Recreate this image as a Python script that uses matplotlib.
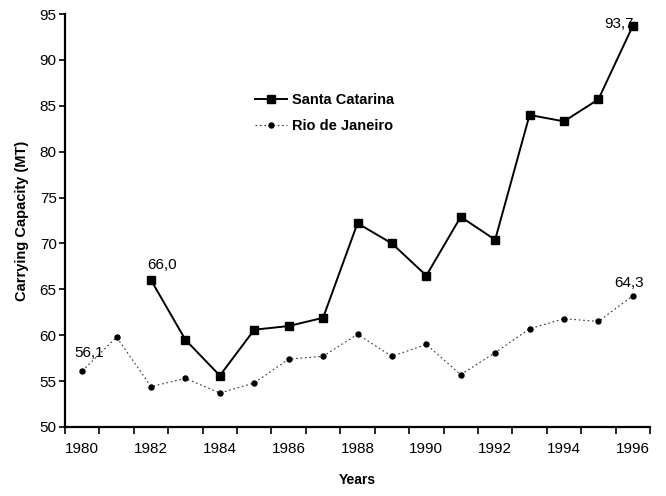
import matplotlib
import matplotlib.pyplot as plt

matplotlib.use('Agg')
plt.rcParams['font.family'] = ['Liberation Sans', 'DejaVu Sans']

years = list(range(1980, 1997))
santa_catarina = [None, None, 66.0, 59.5, 55.6, 60.6, 61.0, 61.9, 72.2, 70.0,
                  66.5, 72.9, 70.4, 84.0, 83.3, 85.7, 93.7]
rio_de_janeiro = [56.1, 59.8, 54.4, 55.3, 53.7, 54.8, 57.4, 57.7, 60.1, 57.7,
                  59.0, 55.7, 58.1, 60.7, 61.8, 61.5, 64.3]
year_labels = [str(y) for y in years[::2]]

fig = plt.figure(figsize=(6.66, 4.96), dpi=100)
ax = fig.add_axes([65 / 666, 69 / 496, 585 / 666, 413 / 496])

idx = list(range(len(years)))
sc_x = [i for i, v in zip(idx, santa_catarina) if v is not None]
sc_y = [v for v in santa_catarina if v is not None]

ax.plot(sc_x, sc_y, color='black', lw=1.4, marker='s', ms=5.5,
        label='Santa Catarina')
ax.plot(idx, rio_de_janeiro, color='#333333', lw=0.8, ls=(0, (1.5, 2.5)),
        marker='o', ms=3.6, mfc='black', mec='black',
        label='Rio de Janeiro')

# value labels at the series ends
def fmt(v):
    return f'{v:.1f}'.replace('.', ',')

fs = 11
ax.annotate(fmt(sc_y[0]), (sc_x[0], sc_y[0]), textcoords='offset pixels',
            xytext=(-4, 15), ha='left', va='center', fontsize=fs)
ax.annotate(fmt(sc_y[-1]), (sc_x[-1], sc_y[-1]), textcoords='offset pixels',
            xytext=(1, 2), ha='right', va='center', fontsize=fs)
ax.annotate(fmt(rio_de_janeiro[0]), (0, rio_de_janeiro[0]),
            textcoords='offset pixels', xytext=(-8, 18), ha='left',
            va='center', fontsize=fs)
ax.annotate(fmt(rio_de_janeiro[-1]), (idx[-1], rio_de_janeiro[-1]),
            textcoords='offset pixels', xytext=(-4, 13), ha='center',
            va='center', fontsize=fs)

ax.set_xlim(-0.5, len(years) - 0.5)
ax.set_ylim(50, 95)
ax.set_yticks(range(50, 96, 5))
ax.set_xticks([i - 0.5 for i in range(len(years) + 1)])
ax.set_xticklabels([])
ax.set_xticks(idx[::2], minor=True)
ax.set_xticklabels(year_labels, minor=True)
ax.tick_params(axis='x', which='major', direction='out', length=5, width=1.2)
ax.tick_params(axis='x', which='minor', length=0, pad=11, labelsize=fs)
ax.tick_params(axis='y', direction='out', length=4, width=1.2, labelsize=fs,
               pad=2)

for side in ['top', 'right']:
    ax.spines[side].set_visible(False)
for side in ['left', 'bottom']:
    ax.spines[side].set_linewidth(1.6)

ax.set_xlabel('Years', fontweight='bold', fontsize=10, labelpad=12)
ax.set_ylabel('Carrying Capacity (MT)', fontweight='bold', fontsize=10.5,
              labelpad=8)

ax.legend(loc='upper left', bbox_to_anchor=(248 / 666, 1 - 86 / 496),
          bbox_transform=fig.transFigure, frameon=False, handlelength=2.2,
          handletextpad=0.3, labelspacing=0.8, borderpad=0,
          prop={'weight': 'bold', 'size': 10.5})

fig.savefig('out.png', dpi=100)
